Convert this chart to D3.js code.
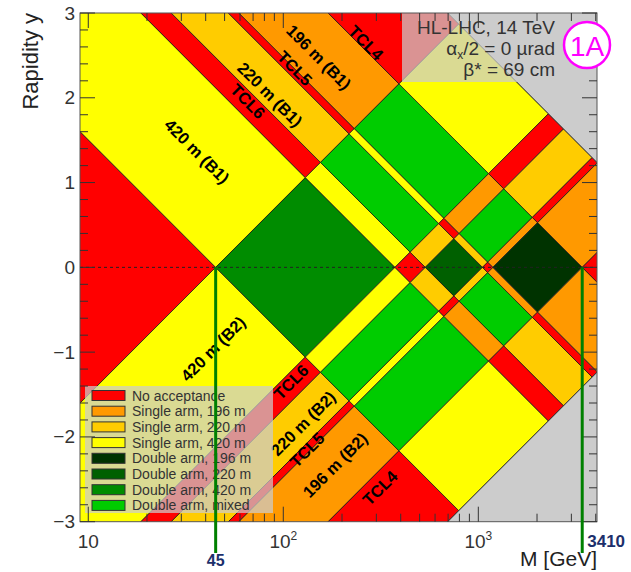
<!DOCTYPE html>
<html>
<head>
<meta charset="utf-8">
<script src="https://cdn.jsdelivr.net/npm/d3@7/dist/d3.min.js"></script>
<style>
  html, body { margin: 0; padding: 0; background: #fff; }
  svg { display: block; font-family: "Liberation Sans", Arial, Helvetica, sans-serif; }
</style>
</head>
<body>
<svg id="chart" width="631" height="572"></svg>
<script>
// Centre-of-mass energy (GeV)
const sqrtS = 14000;

// Forward proton stations: fractional momentum loss acceptance per arm
const stationNames = ["420 m", "220 m", "196 m"];
const xiMin = [0.003214, 0.0382, 0.0849];
const xiMax = [0.0267, 0.0750, 0.2436];

// Colours per station (single arm / double arm), plus special cases
const singleColors = ["#ffff00", "#ffcc00", "#ff9900"];
const doubleColors = ["#008c00", "#006000", "#003300"];
const mixedColor = "#00cc00";
const noAccColor = "#ff0000";
const outsideColor = "#cccccc";

// Legend
const legendLabels = ["No acceptance", "Single arm, 196 m", "Single arm, 220 m", "Single arm, 420 m",
                      "Double arm, 196 m", "Double arm, 220 m", "Double arm, 420 m", "Double arm, mixed"];
const legendColors = ["#ff0000", "#ff9900", "#ffcc00", "#ffff00", "#003300", "#006000", "#008c00", "#00cc00"];

// Band annotations: text, mass (GeV), rapidity, arm (1 = B1, 2 = B2)
const bandText = ["420 m (B1)", "TCL6", "220 m (B1)", "TCL5", "196 m (B1)", "TCL4",
                  "420 m (B2)", "TCL6", "220 m (B2)", "TCL5", "196 m (B2)", "TCL4"];
const bandMass = [36.1, 65.9, 85.5, 114.8, 152.4, 265.6, 43.6, 109.5, 126.2, 132.3, 184.1, 313];
const bandRap  = [1.37, 1.96, 2.04, 2.35, 2.48, 2.65, -0.96, -1.35, -1.84, -2.15, -2.33, -2.60];
const bandArm  = [1, 1, 1, 1, 1, 1, 2, 2, 2, 2, 2, 2];

// Mass values marked on the axis
const markedMass = [45, 3410];

// Axis ticks
const yTicks = [-3, -2, -1, 0, 1, 2, 3];
const xMajor = [10, 100, 1000];
const xMajorExp = ["", "2", "3"];

// Info text
const infoLines = ["HL-LHC, 14 TeV", "alpha", "β* = 69 cm"];

const svg = d3.select("#chart");
const L = 80, R = 597, T = 13, B = 521.7;

const x = d3.scaleLog().domain([9.07, 4060]).range([L, R]);
const y = d3.scaleLinear().domain([-3, 3]).range([B, T]);

svg.append("defs").append("clipPath").attr("id", "plotClip")
  .append("rect").attr("x", L).attr("y", T).attr("width", R - L).attr("height", B - T);

// Build the intervals in ln(xi) along one arm: gaps carry station -1
const order = d3.range(stationNames.length).sort((a, b) => xiMin[a] - xiMin[b]);
const intervals = [];
let lastEdge = -16;
order.forEach(s => {
  intervals.push({ lo: lastEdge, hi: Math.log(xiMin[s]), st: -1 });
  intervals.push({ lo: Math.log(xiMin[s]), hi: Math.log(xiMax[s]), st: s });
  lastEdge = Math.log(xiMax[s]);
});
intervals.push({ lo: lastEdge, hi: 0, st: -1 });

// (u, v) = (ln xi1, ln xi2) -> screen point
function pt(u, v) {
  return [x(sqrtS * Math.exp((u + v) / 2)), y((u - v) / 2)];
}
function cellPoly(u0, u1, v0, v1) {
  return [pt(u0, v0), pt(u1, v0), pt(u1, v1), pt(u0, v1)];
}
function cellColor(a, b) {
  if (a < 0 && b < 0) return noAccColor;
  if (a < 0) return singleColors[b];
  if (b < 0) return singleColors[a];
  if (a === b) return doubleColors[a];
  return mixedColor;
}

const cells = [];
intervals.forEach(iu => intervals.forEach(iv => {
  cells.push({ poly: cellPoly(iu.lo, iu.hi, iv.lo, iv.hi), color: cellColor(iu.st, iv.st) });
}));
// Kinematically forbidden: xi > 1 on either side
cells.push({ poly: cellPoly(0, 8, -16, 8), color: outsideColor });
cells.push({ poly: cellPoly(-16, 8, 0, 8), color: outsideColor });

const plotG = svg.append("g").attr("clip-path", "url(#plotClip)");
plotG.selectAll("path.cell").data(cells).join("path")
  .attr("class", "cell")
  .attr("d", d => "M" + d.poly.map(p => p.join(",")).join("L") + "Z")
  .attr("fill", d => d.color)
  .attr("stroke", "#1a1a1a")
  .attr("stroke-opacity", 0.8)
  .attr("stroke-width", 1)
  .attr("stroke-linejoin", "round");

// y = 0 reference line
plotG.append("line")
  .attr("x1", L).attr("x2", R).attr("y1", y(0)).attr("y2", y(0))
  .attr("stroke", "#222").attr("stroke-width", 1).attr("stroke-dasharray", "3,3");

// Band labels
plotG.selectAll("text.band").data(bandText).join("text")
  .attr("class", "band")
  .attr("transform", (d, i) => `translate(${x(bandMass[i])},${y(bandRap[i])}) rotate(${bandArm[i] === 1 ? 45 : -45})`)
  .attr("text-anchor", "middle")
  .attr("dominant-baseline", "central")
  .attr("font-size", 16.5)
  .attr("font-weight", "bold")
  .attr("fill", "#000")
  .text(d => d);

// Info box (translucent)
svg.append("rect").attr("x", 402).attr("y", T).attr("width", R - 402).attr("height", 82 - T)
  .attr("fill", "#cccccc").attr("fill-opacity", 0.72);
const info = svg.append("g").attr("fill", "#333").attr("font-size", 19).attr("text-anchor", "end");
info.append("text").attr("x", 555).attr("y", 34).text(infoLines[0]);
const alphaT = info.append("text").attr("x", 555).attr("y", 55);
alphaT.append("tspan").text("α");
alphaT.append("tspan").attr("font-size", 12).attr("dy", 4).text("x");
alphaT.append("tspan").attr("dy", -4).text("/2 = 0 µrad");
info.append("text").attr("x", 555).attr("y", 76).text(infoLines[2]);

// Legend (translucent)
const legX = 85, legY = 386;
svg.append("rect").attr("x", legX).attr("y", legY).attr("width", 273 - legX).attr("height", 513 - legY)
  .attr("fill", "#cccccc").attr("fill-opacity", 0.72);
const leg = svg.append("g").selectAll("g").data(legendLabels).join("g")
  .attr("transform", (d, i) => `translate(0,${395.5 + i * 15.7})`);
leg.append("rect").attr("x", 92).attr("y", -5).attr("width", 33).attr("height", 10)
  .attr("fill", (d, i) => legendColors[i]).attr("stroke", "#333").attr("stroke-width", 1);
leg.append("text").attr("x", 132).attr("y", 0).attr("dominant-baseline", "central")
  .attr("font-size", 14).attr("fill", "#333").text(d => d);

// Frame
svg.append("rect").attr("x", L).attr("y", T).attr("width", R - L).attr("height", B - T)
  .attr("fill", "none").attr("stroke", "#555").attr("stroke-width", 1);

// Ticks (mirrored on all four sides, pointing inwards)
const tickG = svg.append("g").attr("stroke", "#333").attr("stroke-width", 1);
const yMinor = d3.range(-30, 31, 2).map(v => v / 10);
yMinor.forEach(v => {
  const major = Math.abs(v - Math.round(v)) < 1e-9;
  const len = major ? 15 : 8;
  tickG.append("line").attr("x1", L).attr("x2", L + len).attr("y1", y(v)).attr("y2", y(v));
  tickG.append("line").attr("x1", R).attr("x2", R - len).attr("y1", y(v)).attr("y2", y(v));
});
const [dLo, dHi] = x.domain();
xMajor.forEach(dec => {
  for (let k = 1; k <= 9; k++) {
    const m = k * dec;
    if (m < dLo || m > dHi) continue;
    const len = k === 1 ? 15 : 8;
    tickG.append("line").attr("x1", x(m)).attr("x2", x(m)).attr("y1", B).attr("y2", B - len);
    tickG.append("line").attr("x1", x(m)).attr("x2", x(m)).attr("y1", T).attr("y2", T + len);
  }
});

// Tick labels
svg.append("g").selectAll("text").data(yTicks).join("text")
  .attr("x", 75).attr("y", d => y(d)).attr("dominant-baseline", "central")
  .attr("text-anchor", "end").attr("font-size", 19).attr("fill", "#333")
  .text(d => d < 0 ? "−" + Math.abs(d) : String(d));
const xl = svg.append("g").selectAll("text").data(xMajor).join("text")
  .attr("x", d => x(d)).attr("y", 548).attr("text-anchor", "middle")
  .attr("font-size", 19).attr("fill", "#333");
xl.append("tspan").text("10");
xl.append("tspan").attr("font-size", 12).attr("dy", -8).text((d, i) => xMajorExp[i]);

// Axis titles
svg.append("text").attr("transform", `translate(38,${T}) rotate(-90)`)
  .attr("text-anchor", "end").attr("font-size", 22).attr("fill", "#222").text("Rapidity y");
svg.append("text").attr("x", R).attr("y", 566).attr("text-anchor", "end")
  .attr("font-size", 21).attr("fill", "#222").text("M [GeV]");

// Mass markers from the double-arm diamond tips down past the axis
svg.append("g").selectAll("line").data(markedMass).join("line")
  .attr("x1", d => x(d)).attr("x2", d => x(d)).attr("y1", y(0)).attr("y2", 553)
  .attr("stroke", "#008000").attr("stroke-width", 3);
svg.append("text").attr("x", x(markedMass[0])).attr("y", 566).attr("text-anchor", "middle")
  .attr("font-size", 16).attr("font-weight", "bold").attr("fill", "#1c2f6b").text(markedMass[0]);
svg.append("text").attr("x", x(markedMass[1]) + 5).attr("y", 547).attr("text-anchor", "start")
  .attr("font-size", 17).attr("font-weight", "bold").attr("fill", "#1c2f6b").text(markedMass[1]);

// Configuration badge
svg.append("circle").attr("cx", 587).attr("cy", 45).attr("r", 23)
  .attr("fill", "#fff").attr("stroke", "#ff00ff").attr("stroke-width", 2.5);
svg.append("text").attr("x", 587).attr("y", 46).attr("text-anchor", "middle")
  .attr("dominant-baseline", "central").attr("font-size", 28).attr("fill", "#ff00ff").text("1A");
</script>
</body>
</html>
